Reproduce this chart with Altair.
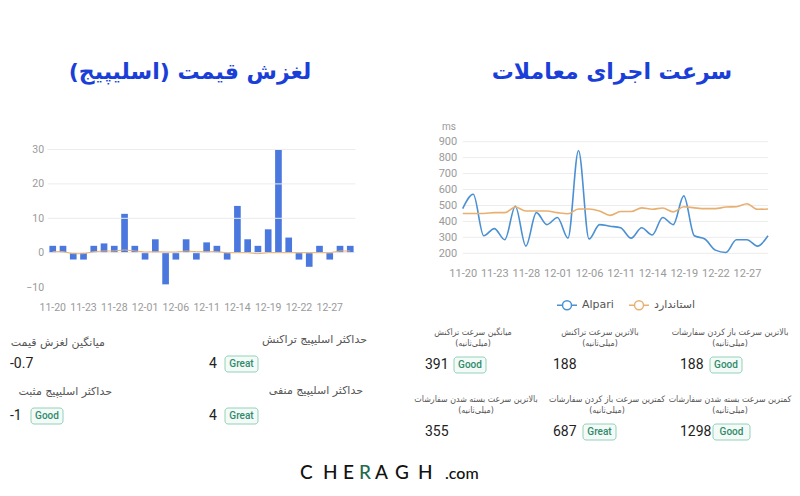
import altair as alt
import pandas as pd

# ---------------- data ----------------
dates = ["11-20", "11-21", "11-22", "11-23", "11-24", "11-27", "11-28", "11-29", "11-30", "12-01",
         "12-04", "12-05", "12-06", "12-07", "12-08", "12-11", "12-12", "12-13", "12-14", "12-15",
         "12-18", "12-19", "12-20", "12-21", "12-22", "12-25", "12-26", "12-27", "12-28", "12-29"]
tick_dates = ["11-20", "11-23", "11-28", "12-01", "12-06", "12-11", "12-14", "12-19", "12-22", "12-27"]

slippage = [2, 2, -2, -2, 2, 2.7, 2, 11.3, 2, -2, 3.9, -9.2, -2, 3.9, -2, 3, 2, -2, 13.6, 3.9,
            2, 6.8, 30, 4.4, -2, -4.1, 2, -2, 2, 2]
slippage_avg = [0.3, 0.3, -0.3, -0.3, 0.3, 0.5, 0.5, 0.8, 0.5, 0.2, 0.3, 0.2, 0.2, 0.5, 0.3,
                0.3, 0.3, 0.0, 0.0, 0.0, -0.3, 0.0, 0.0, 0.0, 0.0, 0.0, 0.0, 0.0, 0.5, 0.5]
slip_ticks = [-10, 0, 10, 20, 30]
slip_grid = [0, 10, 20, 30]

alpari_ms = [480, 570, 310, 355, 285, 495, 245, 455, 380, 425, 295, 845, 290, 380, 370,
             360, 295, 360, 315, 425, 380, 560, 310, 290, 220, 205, 285, 285, 245, 310]
standard_ms = [450, 450, 450, 455, 455, 490, 465, 465, 465, 455, 448, 478, 478, 465, 438,
               462, 462, 485, 476, 484, 460, 492, 485, 480, 480, 490, 492, 511, 476, 478]
series_names = ["Alpari", "استاندارد"]
ms_ticks = [200, 300, 400, 500, 600, 700, 800, 900]

title_left = "لغزش قیمت (اسلیپیج)"
title_right = "سرعت اجرای معاملات"

slip_labels = ["میانگین لغزش قیمت", "حداکثر اسلیپیج تراکنش", "حداکثر اسلیپیج مثبت", "حداکثر اسلیپیج منفی"]
slip_values = ["-0.7", "4", "-1", "4"]
slip_badges = ["", "Great", "Good", "Great"]

speed_labels = ["میانگین سرعت تراکنش", "بالاترین سرعت تراکنش", "بالاترین سرعت باز کردن سفارشات",
                "بالاترین سرعت بسته شدن  سفارشات", "کمترین سرعت باز کردن سفارشات",
                "کمترین سرعت بسته شدن  سفارشات"]
speed_unit = "(میلی‌ثانیه)"
speed_values = ["391", "188", "188", "355", "687", "1298"]
speed_badges = ["Good", "", "Good", "", "Great", "Good"]

logo_letters = ["C", "H", "E", "R", "A", "G", "H"]
logo_suffix = ".com"

# ---------------- styles ----------------
RLM = "\u200f"
FA = "DejaVu Sans"
FA_NARROW = "DejaVu Sans Condensed, DejaVu Sans"
NUM = "Roboto"
BAR_BLUE = "#4a78de"
LINE_BLUE = "#4a90d2"
ORANGE = "#e8b070"
TITLE_BLUE = "#1a3fd8"
AXIS_GRAY = "#9a9a9a"
GRID = "#ececec"
W, H = 784, 480

one = alt.Data(values=[{}])


def txt(s, x, y, size=11, color="#555", align="center", weight="normal", font=FA):
    return alt.Chart(one).mark_text(
        text=s, align=align, baseline="middle", fontSize=size, color=color,
        fontWeight=weight, font=font
    ).encode(x=alt.value(x), y=alt.value(y))


def badge(label, x0, x1, yc):
    rect = alt.Chart(one).mark_rect(
        fill="#f3faf7", stroke="#93d2b8", strokeWidth=1, cornerRadius=3
    ).encode(x=alt.value(x0), x2=alt.value(x1), y=alt.value(yc - 8), y2=alt.value(yc + 8))
    t = txt(label, (x0 + x1) / 2, yc, size=10, color="#2f8b6b", weight=500, font=NUM)
    return [rect, t]


# ---------------- slippage bar chart ----------------
bar_df = pd.DataFrame({"date": dates, "v": slippage, "avg": slippage_avg})
BX0, BX1 = 39.6, 347.4
xb = alt.X("date:O", sort=dates,
           scale=alt.Scale(type="band", range=[BX0, BX1], paddingInner=0.35, paddingOuter=0.175),
           axis=alt.Axis(orient="bottom", values=tick_dates, title=None, labelAngle=0, domain=False,
                         ticks=False, grid=False, labelColor=AXIS_GRAY, labelFontSize=10.5, labelFont=NUM,
                         labelPadding=6, offset=288 - H))
yb = alt.Y("v:Q", scale=alt.Scale(domain=[-10, 30], range=[279.1, 141.5], nice=False, zero=False),
           axis=alt.Axis(orient="left", values=slip_ticks, title=None, domain=False, ticks=False, grid=False,
                         labelColor=AXIS_GRAY, labelFontSize=10.5, labelFont=NUM, labelPadding=4,
                         offset=-BX0))

bar_grid = alt.Chart(pd.DataFrame({"v": slip_grid})).mark_rule(color=GRID, strokeWidth=1).encode(
    y=alt.Y("v:Q"), x=alt.value(BX0), x2=alt.value(BX1))
bars = alt.Chart(bar_df).mark_bar(color=BAR_BLUE).encode(x=xb, y=yb, y2=alt.datum(0))
bar_avg = alt.Chart(bar_df).mark_line(color=ORANGE, strokeWidth=1).encode(
    x=alt.X("date:O", sort=dates), y=alt.Y("avg:Q"))
bar_group = alt.layer(bars, bar_grid, bar_avg)

# ---------------- speed line chart ----------------
line_df = pd.DataFrame({
    "date": dates * 2,
    "ms": alpari_ms + standard_ms,
    "series": [series_names[0]] * len(dates) + [series_names[1]] * len(dates),
})
LX0, LX1 = 454.7, 760.0
xl = alt.X("date:O", sort=dates,
           scale=alt.Scale(type="point", range=[LX0, LX1], padding=0),
           axis=alt.Axis(orient="bottom", values=tick_dates, title=None, labelAngle=0, domain=False,
                         ticks=False, grid=False, labelColor=AXIS_GRAY, labelFontSize=11, labelFont=NUM,
                         labelPadding=4, offset=255 - H))
yl = alt.Y("ms:Q", scale=alt.Scale(domain=[200, 900], range=[245.3, 133.7], nice=False, zero=False),
           axis=alt.Axis(orient="left", values=ms_ticks, title=None, domain=False, ticks=False, grid=False,
                         labelColor=AXIS_GRAY, labelFontSize=11, labelFont=NUM, labelPadding=6,
                         offset=-LX0))
sym = "M-0.45,0A0.45,0.45,0,1,0,0.45,0A0.45,0.45,0,1,0,-0.45,0Z M-1,0L-0.45,0M0.45,0L1,0"
line_grid = alt.Chart(pd.DataFrame({"ms": ms_ticks})).mark_rule(color=GRID, strokeWidth=1).encode(
    y=alt.Y("ms:Q"), x=alt.value(LX0), x2=alt.value(LX1))
lines = alt.Chart(line_df).mark_line(interpolate="monotone", strokeWidth=1.6).encode(
    x=xl, y=yl,
    color=alt.Color("series:N", sort=series_names,
                    scale=alt.Scale(domain=series_names, range=[LINE_BLUE, ORANGE]),
                    legend=alt.Legend(title=None, orient="none", legendX=548, legendY=286,
                                      direction="horizontal", symbolType=sym, symbolSize=400,
                                      symbolStrokeWidth=1.5, symbolFillColor="white",
                                      labelFontSize=11, labelColor="#555", labelFont=FA,
                                      columnPadding=12, labelOffset=4)),
)
line_group = alt.layer(line_grid, lines)

# ---------------- annotations ----------------
ann = []
ann.append(txt(title_left + RLM, 182, 64, size=22, color=TITLE_BLUE, weight="bold"))
ann.append(txt(title_right, 604, 64, size=22, color=TITLE_BLUE, weight="bold"))
ann.append(txt("ms", 441, 119, size=10, color=AXIS_GRAY, font=NUM))

# slippage stats
slip_label_pos = [(97, 335), (359, 332), (104, 384), (355, 383)]
slip_value_pos = [(2, 356), (201, 356), (2, 408), (201, 408)]
slip_badge_x = [None, (217, 250), (23, 55), (217, 250)]
for lab, val, bdg, lp, vp, bx in zip(slip_labels, slip_values, slip_badges,
                                      slip_label_pos, slip_value_pos, slip_badge_x):
    ann.append(txt(lab, lp[0], lp[1], size=11, color="#555", align="right"))
    ann.append(txt(val, vp[0], vp[1], size=14, color="#222", align="left", font=NUM))
    if bdg:
        ann += badge(bdg, bx[0], bx[1], vp[1])

# speed stats
speed_label_pos = [(465, 324), (592, 324), (722, 324), (468, 391), (599, 391), (722, 391)]
speed_value_pos = [(417, 357), (545, 357), (672, 357), (417, 424), (545, 424), (672, 424)]
speed_badge_x = [(446, 478), None, (702, 734), None, (575, 608), (705, 742)]
for lab, val, bdg, lp, vp, bx in zip(speed_labels, speed_values, speed_badges,
                                      speed_label_pos, speed_value_pos, speed_badge_x):
    ann.append(txt(lab, lp[0], lp[1], size=8.8, color="#555", font=FA_NARROW))
    ann.append(txt(RLM + speed_unit + RLM, lp[0], lp[1] + 11, size=8.8, color="#555", font=FA_NARROW))
    ann.append(txt(val, vp[0], vp[1], size=14, color="#222", align="left", font=NUM))
    if bdg:
        ann += badge(bdg, bx[0], bx[1], vp[1])

# logo
logo_x = [300, 323, 343, 359, 375, 395, 418]
for ch, lx in zip(logo_letters, logo_x):
    ann.append(txt(ch, lx - 8, 465, size=19, color="#1f6b4f" if ch == "R" else "#111",
                   align="left", font="Lato", weight=500))
ann.append(txt(logo_suffix, 437, 466, size=16, color="#111", align="left", font="Lato", weight=500))

chart = alt.layer(bar_group, line_group, *ann).resolve_scale(
    x="independent", y="independent", color="independent"
).properties(
    width=W, height=H, padding=0, background="white",
    autosize=alt.AutoSizeParams(type="none"),
).configure_view(stroke=None)

chart.save("out.html", embed_options={"renderer": "svg", "actions": False})
